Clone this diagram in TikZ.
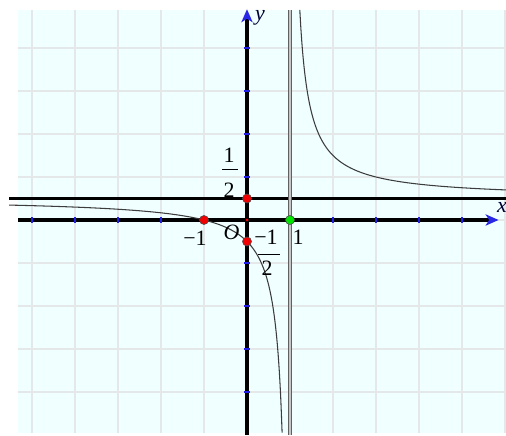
\documentclass[tikz,border=0pt]{standalone}
\usepackage{fontspec}
\setmainfont{Liberation Serif}
\usetikzlibrary{arrows.meta}
\definecolor{bgc}{RGB}{240,255,255}
\definecolor{gridc}{RGB}{228,232,232}
\definecolor{tickc}{RGB}{30,30,230}
\definecolor{axblue}{RGB}{40,40,230}
\definecolor{ptred}{RGB}{240,0,0}
\definecolor{ptgreen}{RGB}{0,230,0}
\definecolor{curvec}{RGB}{60,60,60}
\begin{document}
\begin{tikzpicture}[x=1cm,y=1cm,
  lbl/.style={font=\fontsize{14.5}{16}\selectfont,inner sep=0pt},
  axis/.style={line width=2pt,black},
  pt/.style={circle,inner sep=0pt,minimum size=0.21cm,draw=black!70,line width=0.4pt},
  tk/.style={tickc,line width=0.8pt}]
\useasboundingbox (-5.744,-5.0) rectangle (6.023,5.116);
% background
\fill[bgc] (-5.326,-4.953) rectangle (6.023,4.884);
% grid
\foreach \i in {-5,...,6} \draw[gridc,line width=0.8pt] (\i,-4.953) -- (\i,4.884);
\foreach \j in {-4,...,4} \draw[gridc,line width=0.8pt] (-5.326,\j) -- (6.023,\j);
% horizontal asymptote y=1/2
\coordinate (hl) at (-5.53,0.5);
\coordinate (hr) at (6.023,0.5);
\draw[axis] (hl) -- (hr);
% vertical asymptote x=1
\coordinate (vb) at (1,-5.0);
\coordinate (vt) at (1,4.884);
\draw[gray!75!black,line width=2.6pt] (vb) -- (vt);
\draw[gray!45,line width=0.7pt] (vb) -- (vt);
% axes
\coordinate (xl) at (-5.326,0);
\coordinate (xr) at (5.85,0);
\coordinate (yb) at (0,-5.0);
\coordinate (yt) at (0,4.9);
\draw[axis,-{Stealth[length=0.3cm,width=0.26cm,inset=0.08cm,axblue]}] (xl) -- (xr);
\draw[axis,-{Stealth[length=0.3cm,width=0.26cm,inset=0.08cm,axblue]}] (yb) -- (yt);
% ticks
\foreach \i in {-5,...,-1,1,2,...,5} \draw[tk] (\i,-0.07) -- (\i,0.07);
\foreach \j in {-4,...,-1,1,2,...,4} \draw[tk] (-0.07,\j) -- (0.07,\j);
% curve y = 1/2 + 1/(x-1)
\draw[curvec,line width=0.7pt,domain=-5.53:0.818,samples=200,smooth] plot (\x,{0.5+1/(\x-1)});
\draw[curvec,line width=0.7pt,domain=1.228:6.023,samples=200,smooth] plot (\x,{0.5+1/(\x-1)});
% labels
\node[lbl,font=\fontsize{14.5}{16}\selectfont\itshape,text=black!80!blue] (ylab) at (0.30,4.70) {y};
\node[lbl,font=\fontsize{14.5}{16}\selectfont\itshape,text=black!80!blue] (xlab) at (5.93,0.30) {x};
\node[lbl] (hn) at (-0.419,1.512) {1};
\coordinate (hbl) at (-0.581,1.186);
\coordinate (hbr) at (-0.209,1.186);
\draw[line width=0.6pt] (hbl) -- (hbr);
\node[lbl] (hd) at (-0.419,0.698) {2};
\node[lbl] (m1) at (-1.209,-0.419) {−1};
\node[lbl,font=\fontsize{14.5}{16}\selectfont\itshape] (o) at (-0.36,-0.29) {O};
\node[lbl] (mhn) at (0.442,-0.395) {−1};
\coordinate (mbl) at (0.256,-0.791);
\coordinate (mbr) at (0.767,-0.791);
\draw[line width=0.6pt] (mbl) -- (mbr);
\node[lbl] (mhd) at (0.465,-1.116) {2};
\node[lbl] (one) at (1.186,-0.395) {1};
% points
\node[pt,fill=ptred] (pa) at (-1,0) {};
\node[pt,fill=ptred] (pb) at (0,0.5) {};
\node[pt,fill=ptred] (pc) at (0,-0.5) {};
\node[pt,fill=ptgreen] (pd) at (1,0) {};
\fill[ptred] (0,0) circle (0.035);
\end{tikzpicture}
\end{document}
